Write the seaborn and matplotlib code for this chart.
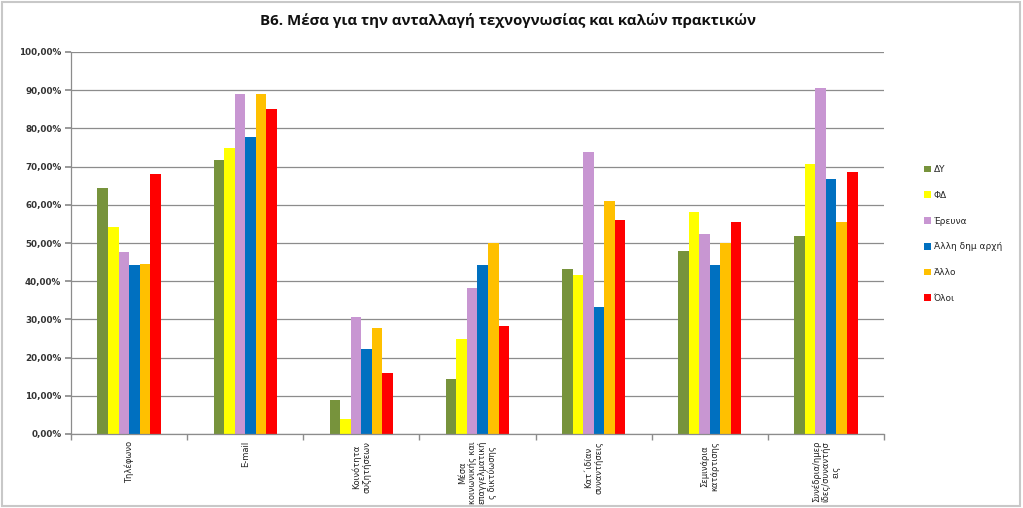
import matplotlib
matplotlib.use("Agg")
import matplotlib.pyplot as plt
import matplotlib.ticker as mticker
from matplotlib.patches import Rectangle
import seaborn as sns
import pandas as pd

categories = [
    "Τηλέφωνο",
    "E-mail",
    "Κοινότητα\nσυζητήσεων",
    "Μέσα\nκοινωνικής και\nεπαγγελματική\nς δικτύωσης",
    "Κατ΄ιδίαν\nσυναντήσεις",
    "Σεμινάρια\nκατάρτισης",
    "Συνέδρια/ημερ\nίδες/συναντήσ\nεις",
]
series_names = ["ΔΥ", "ΦΔ", "Έρευνα", "Άλλη δημ αρχή", "Άλλο", "Όλοι"]
dy = [64.3, 71.6, 8.9, 14.3, 43.3, 47.9, 51.9]
fd = [54.1, 74.9, 3.9, 24.9, 41.6, 58.2, 70.7]
erevna = [47.6, 89.1, 30.6, 38.2, 73.7, 52.3, 90.7]
alli_dimarxi = [44.2, 77.7, 22.2, 44.3, 33.3, 44.3, 66.7]
allo = [44.4, 88.9, 27.7, 49.9, 61.1, 50.0, 55.6]
oloi = [68.1, 85.0, 16.0, 28.2, 56.1, 55.6, 68.5]
colors = ["#77933C", "#FFFF00", "#C896D2", "#0070C0", "#FFC000", "#FF0000"]

series_values = [dy, fd, erevna, alli_dimarxi, allo, oloi]
rows = []
for name, vals in zip(series_names, series_values):
    for cat, v in zip(categories, vals):
        rows.append({"cat": cat, "series": name, "value": v})
df = pd.DataFrame(rows)

sns.set_theme(style="white")
plt.rcParams["font.family"] = ["DejaVu Sans"]

fig = plt.figure(figsize=(10.23, 5.08), dpi=100)
ax = fig.add_axes([71 / 1023, 1 - 434 / 508, (884 - 71) / 1023, (434 - 52) / 508])

sns.barplot(data=df, x="cat", y="value", hue="series", order=categories,
            hue_order=series_names, palette=colors, width=0.545,
            saturation=1, ax=ax, legend=True, errorbar=None,
            linewidth=0, edgecolor="none")

ax.set_ylim(0, 100)
ax.set_xlim(-0.5, len(categories) - 0.5)
ax.yaxis.set_major_locator(mticker.MultipleLocator(10))
ax.yaxis.set_major_formatter(mticker.FuncFormatter(lambda v, p: f"{v:.2f}".replace(".", ",") + "%"))
ax.grid(axis="y", color="#8c8c8c", linewidth=0.9)
ax.set_axisbelow(True)
ax.set_xlabel("")
ax.set_ylabel("")
for s in ["top", "right"]:
    ax.spines[s].set_visible(False)
for s in ["left", "bottom"]:
    ax.spines[s].set_color("#8c8c8c")
    ax.spines[s].set_linewidth(0.9)

ax.tick_params(axis="y", labelsize=6.3, length=4, color="#8c8c8c", direction="out", pad=3, left=True)
for t in ax.get_yticklabels():
    t.set_fontweight("bold")
    t.set_color("#333333")
ax.set_xticks(range(len(categories)))
ax.set_xticklabels(categories, rotation=90, fontsize=6.0, ha="center", va="top",
                   multialignment="center", color="#222222", linespacing=1.15)
ax.tick_params(axis="x", length=0, pad=5)
ax.set_xticks([i + 0.5 for i in range(-1, len(categories))], minor=True)
ax.tick_params(axis="x", which="minor", length=4, color="#8c8c8c", bottom=True)

leg = ax.legend(loc="center left", bbox_to_anchor=(916 / 1023, 1 - 234 / 508),
                bbox_transform=fig.transFigure, frameon=False, fontsize=6.5,
                handlelength=0.75, handleheight=0.75, handletextpad=0.3,
                labelspacing=1.85)

fig.text(0.497, 1 - 20 / 508, "Β6. Μέσα για την ανταλλαγή τεχνογνωσίας και καλών πρακτικών",
         ha="center", va="center", fontsize=10.8, fontweight="bold",
         family=["Open Sans", "DejaVu Sans"], color="#111111")

fig.patches.append(Rectangle((0.002, 0.004), 0.995, 0.992, transform=fig.transFigure,
                             fill=False, edgecolor="#c8c8c8", linewidth=1.5))

fig.savefig("out.png", dpi=100)
